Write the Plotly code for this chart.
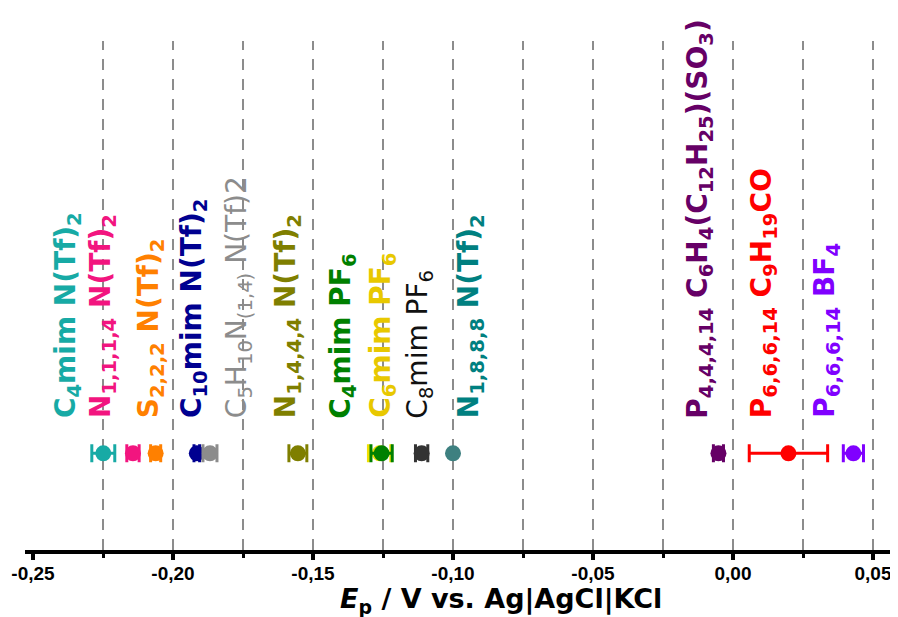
import plotly.graph_objects as go

# ---- data ----
names = [
    "C<sub>4</sub>mim N(Tf)<sub>2</sub>",
    "N<sub>1,1,1,4</sub> N(Tf)<sub>2</sub>",
    "S<sub>2,2,2</sub> N(Tf)<sub>2</sub>",
    "C<sub>10</sub>mim N(Tf)<sub>2</sub>",
    "C<sub>5</sub>H<sub>10</sub>N<sub>(1,4)</sub> N(Tf)2",
    "N<sub>1,4,4,4</sub> N(Tf)<sub>2</sub>",
    "C<sub>4</sub>mim PF<sub>6</sub>",
    "C<sub>6</sub>mim PF<sub>6</sub>",
    "C<sub>8</sub>mim PF<sub>6</sub>",
    "N<sub>1,8,8,8</sub> N(Tf)<sub>2</sub>",
    "P<sub>4,4,4,14</sub> C<sub>6</sub>H<sub>4</sub>(C<sub>12</sub>H<sub>25</sub>)(SO<sub>3</sub>)",
    "P<sub>6,6,6,14</sub> C<sub>9</sub>H<sub>19</sub>CO",
    "P<sub>6,6,6,14</sub> BF<sub>4</sub>",
]
ep_values = [-0.2249, -0.2143, -0.2062, -0.1915, -0.1868, -0.1554,
             -0.1255, -0.1262, -0.1112, -0.1000, -0.0052, 0.0198, 0.0430]
ep_errors = [0.0041, 0.0022, 0.0018, 0.0010, 0.0025, 0.0032,
             0.0038, 0.0040, 0.0022, 0.0000, 0.0018, 0.0140, 0.0036]
bold = [True, True, True, True, False, True, True, True, False, True, True, True, True]

point_colors = ["#17AAA5", "#F2157F", "#FF8000", "#000090", "#8C8C8C", "#7F7F00",
                "#008000", "#F0E000", "#333333", "#3E8080", "#660066", "#FF0000", "#8000FF"]
label_colors = ["#17AAA5", "#F2157F", "#FF8000", "#000090", "#8C8C8C", "#7F7F00",
                "#008000", "#E8C800", "#111111", "#008080", "#660066", "#FF0000", "#8000FF"]

# label column centres (data units) and draw order (yellow under green)
label_x = [-0.2379, -0.2254, -0.2082, -0.1929, -0.1768, -0.1593,
           -0.1393, -0.1250, -0.1118, -0.0939, -0.0118, 0.0107, 0.0336]
draw_order = [0, 1, 2, 3, 4, 5, 7, 6, 8, 9, 10, 11, 12]

tick_vals = [-0.25, -0.20, -0.15, -0.10, -0.05, 0.00, 0.05]
tick_text = ["-0,25", "-0,20", "-0,15", "-0,10", "-0,05", "0,00", "0,05"]
grid_vals = [-0.225, -0.20, -0.175, -0.15, -0.125, -0.10, -0.075,
             -0.05, -0.025, 0.00, 0.025, 0.05]
x_title = "<b><i>E</i><sub>p</sub> / V vs. Ag|AgCl|KCl</b>"

POINT_LEVEL = 0.19
LABEL_BASE = 0.255
LABEL_FONT = "DejaVu Sans"

fig = go.Figure()
for i in draw_order:
    fig.add_trace(go.Scatter(
        x=[ep_values[i]], y=[POINT_LEVEL], mode="markers",
        marker=dict(size=16, color=point_colors[i]),
        error_x=dict(type="data", array=[ep_errors[i]], color=point_colors[i],
                     thickness=3, width=9, visible=ep_errors[i] > 0),
        showlegend=False, hoverinfo="x"))

for i, n in enumerate(names):
    txt = f"<b>{n}</b>" if bold[i] else n
    fig.add_annotation(x=label_x[i], y=LABEL_BASE, xref="x", yref="paper",
                       text=txt, textangle=-90, showarrow=False,
                       xanchor="center", yanchor="bottom",
                       font=dict(family=LABEL_FONT, size=28, color=label_colors[i]))

# axis title (sits right of the axis centre in the reference)
fig.add_annotation(x=-0.0829, y=-0.099, xref="x", yref="paper", text=x_title,
                   showarrow=False, xanchor="center", yanchor="middle",
                   font=dict(family=LABEL_FONT, size=27, color="black"))

for g in grid_vals:
    fig.add_shape(type="line", xref="x", yref="paper", x0=g, x1=g, y0=0, y1=1,
                  line=dict(color="#8C8C8C", width=2, dash="11px,9px"), layer="below")

# the page body has an 8px default margin: the figure is sized/offset to compensate
fig.update_layout(
    width=890, height=609,
    margin=dict(l=17, r=0, t=33, b=67, autoexpand=False),
    paper_bgcolor="white", plot_bgcolor="white",
    font=dict(family="Liberation Sans, Arial", color="black"),
    xaxis=dict(range=[-0.25286, 0.05893], showgrid=False, zeroline=False,
               showline=True, linecolor="black", linewidth=4,
               ticks="outside", ticklen=6, tickwidth=4, tickcolor="black",
               ticklabelstandoff=-3,
               tickvals=tick_vals, ticktext=tick_text,
               tickfont=dict(size=19, family="Liberation Sans, Arial", weight="bold"),
               minor=dict(dtick=0.025, tick0=-0.25, ticks="outside", ticklen=4,
                          tickwidth=3, tickcolor="black", showgrid=False)),
    yaxis=dict(range=[0, 1], visible=False, showgrid=False, zeroline=False),
)

fig.write_html("out.html")
